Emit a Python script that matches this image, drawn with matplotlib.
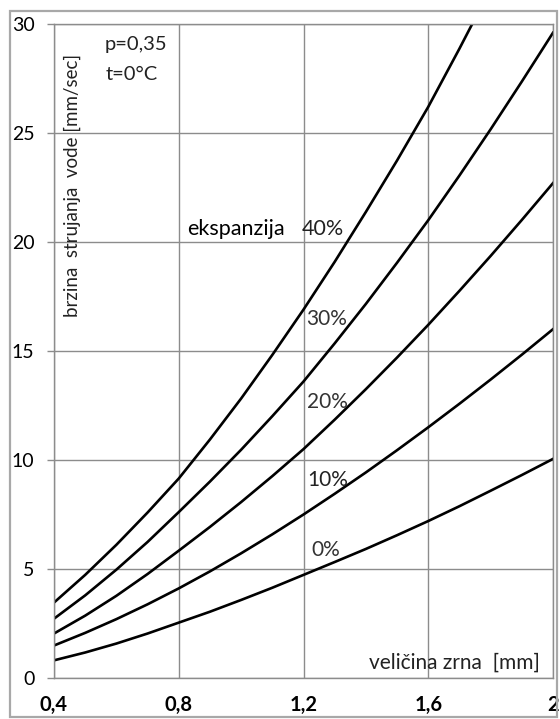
import matplotlib
matplotlib.use("Agg")
import matplotlib.pyplot as plt
from matplotlib.patches import Rectangle
from matplotlib.ticker import FixedLocator, FixedFormatter

# grain size [mm]
d = [0.4, 0.5, 0.6, 0.7, 0.8, 0.9, 1.0, 1.1, 1.2, 1.3, 1.4, 1.5, 1.6, 1.7, 1.8, 1.9, 2.0]

# water velocity [mm/sec] for each expansion
v_0 = [0.81, 1.17, 1.58, 2.04, 2.54, 3.04, 3.58, 4.14, 4.73, 5.32, 5.92, 6.55, 7.20, 7.88, 8.59, 9.31, 10.05]
v_10 = [1.49, 2.07, 2.70, 3.38, 4.11, 4.89, 5.72, 6.59, 7.50, 8.45, 9.43, 10.45, 11.50, 12.58, 13.69, 14.83, 16.00]
v_20 = [2.04, 2.86, 3.77, 4.77, 5.84, 6.93, 8.07, 9.26, 10.50, 11.85, 13.25, 14.70, 16.20, 17.76, 19.36, 21.01, 22.70]
v_30 = [2.72, 3.79, 4.97, 6.24, 7.61, 9.01, 10.47, 12.01, 13.60, 15.35, 17.16, 19.05, 21.00, 23.05, 25.17, 27.36, 29.60]
v_40 = [3.46, 4.73, 6.11, 7.59, 9.15, 10.94, 12.82, 14.82, 16.90, 19.09, 21.38, 23.74, 26.20, 28.87, 31.63, 34.49, 37.44]

series = [v_0, v_10, v_20, v_30, v_40]

xticks = [0.4, 0.8, 1.2, 1.6, 2.0]
xtick_labels = ["0,4", "0,8", "1,2", "1,6", "2"]
yticks = [0, 5, 10, 15, 20, 25, 30]

plt.rcParams["font.family"] = ["Lato", "DejaVu Sans"]

W, H = 560, 719
fig = plt.figure(figsize=(W / 100, H / 100), dpi=100)

# outer chart frame
fig.patches.append(Rectangle((10 / W, 1 - 717 / H), 547 / W, 706 / H,
                             transform=fig.transFigure, fill=False,
                             edgecolor="#a8a8a8", linewidth=1.6))

ax = fig.add_axes([54 / W, 1 - 678 / H, 499 / W, 654 / H])

for v in series:
    ax.plot(d, v, color="black", linewidth=1.9)

ax.set_xlim(0.4, 2.0)
ax.set_ylim(0, 30)
ax.xaxis.set_major_locator(FixedLocator(xticks))
ax.xaxis.set_major_formatter(FixedFormatter(xtick_labels))
ax.set_yticks(yticks)
ax.grid(True, color="#8c8c8c", linewidth=1.0)
ax.set_axisbelow(True)
for s in ax.spines.values():
    s.set_color("#8c8c8c")
    s.set_linewidth(1.0)

ax.tick_params(axis="x", length=0, pad=12, labelsize=14.5, colors="black")
ax.tick_params(axis="y", length=5, width=1, color="#8c8c8c", pad=9,
               labelsize=14, labelcolor="black")
for lab in ax.get_xticklabels():
    lab.set_fontweight("bold")

txt = "#222222"
ax.text(0.458, 22.6, "brzina  strujanja  vode [mm/sec]", rotation=90,
        ha="center", va="center", fontsize=13.5, color=txt)
ax.text(0.563, 29.08, "p=0,35", ha="left", va="center", fontsize=14.5, color=txt)
ax.text(0.567, 27.7, "t=0°C", ha="left", va="center", fontsize=14.5, color=txt)
ax.text(0.826, 20.6, "ekspanzija", ha="left", va="center", fontsize=15.5, color="black")
ax.text(1.195, 20.6, "40%", ha="left", va="center", fontsize=15.5, color=txt)
ax.text(1.208, 16.47, "30%", ha="left", va="center", fontsize=15, color="#333333")
ax.text(1.211, 12.66, "20%", ha="left", va="center", fontsize=15, color="#333333")
ax.text(1.211, 9.08, "10%", ha="left", va="center", fontsize=15, color=txt)
ax.text(1.224, 5.87, "0%", ha="left", va="center", fontsize=15, color="#333333")
ax.text(1.958, 0.7, "veličina zrna  [mm]", ha="right", va="center", fontsize=15, color=txt)

fig.savefig("out.png", dpi=100)
